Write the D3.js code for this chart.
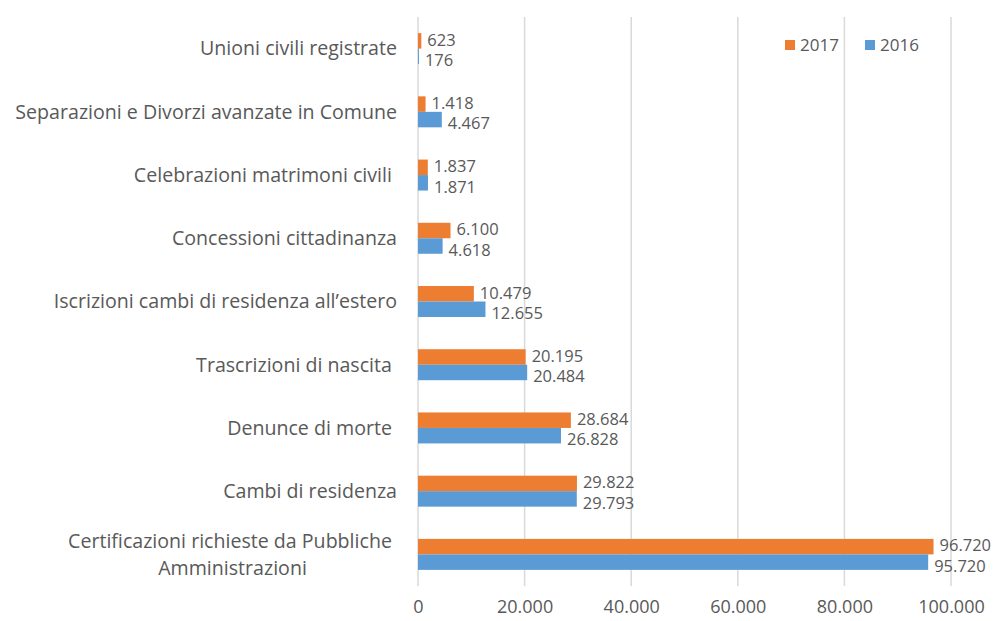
<!DOCTYPE html>
<html>
<head>
<meta charset="utf-8">
<script src="https://cdn.jsdelivr.net/npm/d3@7"></script>
<style>
    body { margin: 0; background: #fff; }
    text { font-family: "Open Sans", Lato, sans-serif; fill: #595959; white-space: pre; }
</style>
</head>
<body>
<div id="chart"></div>
<script>
// categories top to bottom, as in the picture
const categories = [
    "Unioni civili registrate",
    "Separazioni e Divorzi avanzate in Comune",
    "Celebrazioni matrimoni civili ",
    "Concessioni cittadinanza",
    "Iscrizioni cambi di residenza all\u2019estero",
    "Trascrizioni di nascita ",
    "Denunce di morte ",
    "Cambi di residenza",
    "Certificazioni richieste da Pubbliche \nAmministrazioni"
];
const series = ["2017", "2016"];
const values2017 = [623, 1418, 1837, 6100, 10479, 20195, 28684, 29822, 96720];
const values2016 = [176, 4467, 1871, 4618, 12655, 20484, 26828, 29793, 95720];
const xTicks = [0, 20000, 40000, 60000, 80000, 100000];

const colors = { "2017": "#ED7D31", "2016": "#5B9BD5" };

const width = 994, height = 621;
const margin = { top: 17, right: 43, bottom: 35, left: 418 };

// italian number format: 20.000
const it = d3.formatLocale({ decimal: ",", thousands: ".", grouping: [3], currency: ["€", ""] });
const fmt = it.format(",d");

const rows = categories.map((c, i) => ({
    category: c,
    "2017": values2017[i],
    "2016": values2016[i]
}));

const svg = d3.select("#chart")
    .append("svg")
    .attr("width", width)
    .attr("height", height);

let xScale = d3.scaleLinear()
    .domain([0, 100000])
    .range([margin.left, width - margin.right]);

let yScale = d3.scaleBand()
    .domain(categories)
    .range([margin.top, height - margin.bottom])
    .paddingInner(0.51)
    .paddingOuter(0.255);

let subScale = d3.scaleBand()
    .domain(series)
    .range([0, yScale.bandwidth()]);

//Gridlines
svg.append("g")
    .selectAll("line")
    .data(xTicks)
    .join("line")
    .attr("x1", d => xScale(d))
    .attr("x2", d => xScale(d))
    .attr("y1", margin.top)
    .attr("y2", height - margin.bottom)
    .attr("stroke", "#D9D9D9")
    .attr("stroke-width", 1.5);

//Bottom axis labels only
let xAxis = d3.axisBottom(xScale)
    .tickValues(xTicks)
    .tickFormat(fmt)
    .tickSize(0)
    .tickPadding(14);

svg.append("g")
    .attr("transform", `translate(0, ${height - margin.bottom})`)
    .call(xAxis)
    .call(g => g.select(".domain").remove())
    .call(g => g.selectAll("text")
        .attr("font-size", "18px")
        .attr("font-family", null)
        .attr("fill", "#595959"));

//Category labels, right aligned, multi line ones centred on their longest line
const labelRight = 397;
let catG = svg.append("g");
categories.forEach(c => {
    let lines = c.split("\n");
    let cy = yScale(c) + yScale.bandwidth() / 2;
    let t = catG.append("text")
        .attr("y", cy)
        .attr("font-size", "19.6px")
        .attr("text-anchor", lines.length > 1 ? "middle" : "end");
    lines.forEach((l, i) => {
        t.append("tspan")
            .attr("x", 0)
            .attr("dy", i === 0 ? `${0.35 - (lines.length - 1) * 0.7}em` : "1.4em")
            .text(l);
    });
    let w = d3.max(t.selectAll("tspan").nodes(), n => n.getComputedTextLength());
    let x = lines.length > 1 ? labelRight - w / 2 : labelRight;
    t.selectAll("tspan").attr("x", x);
});

//Bars
let groups = svg.append("g")
    .selectAll("g")
    .data(rows)
    .join("g")
    .attr("transform", d => `translate(0, ${yScale(d.category)})`);

groups.selectAll("rect")
    .data(d => series.map(s => ({ key: s, value: d[s] })))
    .join("rect")
    .attr("x", xScale(0))
    .attr("y", d => subScale(d.key))
    .attr("width", d => xScale(d.value) - xScale(0))
    .attr("height", subScale.bandwidth())
    .attr("fill", d => colors[d.key]);

//Value labels
groups.selectAll("text.value")
    .data(d => series.map(s => ({ key: s, value: d[s] })))
    .join("text")
    .attr("class", "value")
    .attr("x", d => xScale(d.value) + 6)
    .attr("y", d => subScale(d.key) + subScale.bandwidth() / 2 + (d.key === "2016" ? 4 : -1))
    .attr("dy", "0.35em")
    .attr("font-size", "16.5px")
    .text(d => fmt(d.value));

//Legend
let legend = svg.append("g")
    .attr("transform", "translate(785, 45)");

series.forEach((s, i) => {
    let g = legend.append("g").attr("transform", `translate(${i * 80}, 0)`);
    g.append("rect")
        .attr("x", 0)
        .attr("y", -5)
        .attr("width", 10)
        .attr("height", 10)
        .attr("fill", colors[s]);
    g.append("text")
        .attr("x", 15)
        .attr("y", 0)
        .attr("dy", "0.35em")
        .attr("font-size", "17px")
        .text(s);
});
</script>
</body>
</html>
